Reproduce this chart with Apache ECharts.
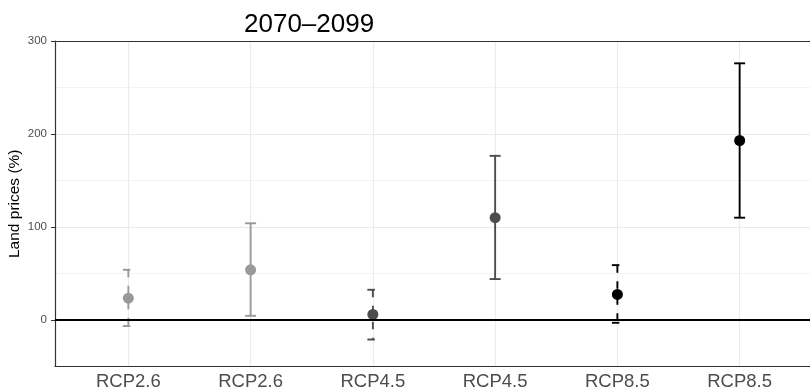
<!DOCTYPE html>
<html><head><meta charset="utf-8">
<script src="https://cdn.jsdelivr.net/npm/echarts@6/dist/echarts.min.js"></script>
<style>html,body{margin:0;padding:0;background:#fff}#c{width:810px;height:389px}</style>
</head><body><div id="c"></div>
<script>
// ---- data ----
const categories = ['RCP2.6', 'RCP2.6', 'RCP4.5', 'RCP4.5', 'RCP8.5', 'RCP8.5'];
const estimates = [23.5, 54, 6, 110, 27.5, 193];
const lower = [-6.5, 4.5, -21, 44, -3, 110];
const upper = [54, 104, 32.5, 176.5, 59, 276];
const yTicks = [0, 100, 200, 300];
const titleText = '2070–2099';
const yName = 'Land prices (%)';

// ---- styles ----
const colors = ['#999999', '#999999', '#4d4d4d', '#4d4d4d', '#000000', '#000000'];
const dashed = [true, false, true, false, true, false];
const FONT = 'Liberation Sans, Arial, Helvetica, sans-serif';
const BORDER = { show: true, onZero: false, lineStyle: { color: '#333333', width: 1.2 } };

const positions = categories.map((c, i) => i + 1);
const barData = positions.map((p, i) => [p, lower[i], upper[i]]);
const pointData = positions.map((p, i) => ({ value: [p, estimates[i]], itemStyle: { color: colors[i], opacity: 1 } }));

const chart = echarts.init(document.getElementById('c'), null, { renderer: 'canvas' });
chart.setOption({
  animation: false,
  backgroundColor: '#ffffff',
  title: {
    text: titleText, left: 239, top: 7,
    textStyle: { fontFamily: FONT, fontSize: 26, fontWeight: 'normal', color: '#000' }
  },
  grid: {
    left: 55, top: 41, width: 758, height: 325.5,
    containLabel: false, outerBoundsMode: 'none',
    show: false
  },
  xAxis: [
    {
      type: 'value', min: 0.4, max: 6.6, position: 'bottom',
      axisLine: BORDER,
      axisTick: { show: false, customValues: positions },
      axisLabel: {
        customValues: positions, margin: 6,
        formatter: v => categories[Math.round(v) - 1] || '',
        fontFamily: FONT, fontSize: 18.5, color: '#4d4d4d'
      },
      splitLine: { show: true, lineStyle: { color: '#ebebeb', width: 1.1 } }
    },
    {
      type: 'value', min: 0.4, max: 6.6, position: 'top',
      axisLine: BORDER, axisTick: { show: false }, axisLabel: { show: false }, splitLine: { show: false }
    }
  ],
  yAxis: [
    {
      type: 'value', min: -50, max: 300, interval: 50, position: 'left',
      axisLine: { show: false }, axisTick: { show: false }, axisLabel: { show: false },
      splitLine: { show: true, lineStyle: { color: '#ebebeb', width: 0.6 } }
    },
    {
      type: 'value', min: -50, max: 300, position: 'left', offset: 0,
      axisLine: BORDER,
      axisTick: { show: true, customValues: yTicks, length: 4, lineStyle: { color: '#333333', width: 1 } },
      axisLabel: { customValues: yTicks, margin: 8, fontFamily: FONT, fontSize: 11.5, color: '#4d4d4d' },
      splitLine: { show: true, lineStyle: { color: '#ebebeb', width: 1.1 } },
      name: yName, nameLocation: 'middle', nameGap: 32, nameRotate: 90, nameMoveOverlap: false,
      nameTextStyle: { fontFamily: FONT, fontSize: 15.5, color: '#000' }
    }
  ],
  series: [
    {
      type: 'custom', yAxisIndex: 1, z: 2,
      data: barData,
      renderItem(params, api) {
        const i = params.dataIndex;
        const x = api.value(0);
        const lo = api.coord([x, api.value(1)]);
        const hi = api.coord([x, api.value(2)]);
        const hw = 5.5;
        const style = { stroke: colors[i], lineWidth: 1.9, lineDash: dashed[i] ? [7.5, 8.5] : null, fill: null };
        return {
          type: 'group',
          children: [
            { type: 'line', shape: { x1: hi[0] - hw, y1: hi[1], x2: hi[0] + hw, y2: hi[1] }, style },
            { type: 'line', shape: { x1: hi[0], y1: hi[1], x2: lo[0], y2: lo[1] }, style },
            { type: 'line', shape: { x1: lo[0] - hw, y1: lo[1], x2: lo[0] + hw, y2: lo[1] }, style }
          ]
        };
      },
      markLine: {
        silent: true, symbol: ['none', 'none'], label: { show: false },
        lineStyle: { color: '#000', width: 2, type: 'solid' },
        data: [{ yAxis: 0 }]
      }
    },
    {
      type: 'scatter', yAxisIndex: 1, z: 3,
      symbol: 'circle', symbolSize: 11,
      itemStyle: { opacity: 1 },
      data: pointData
    }
  ]
});
</script></body></html>
